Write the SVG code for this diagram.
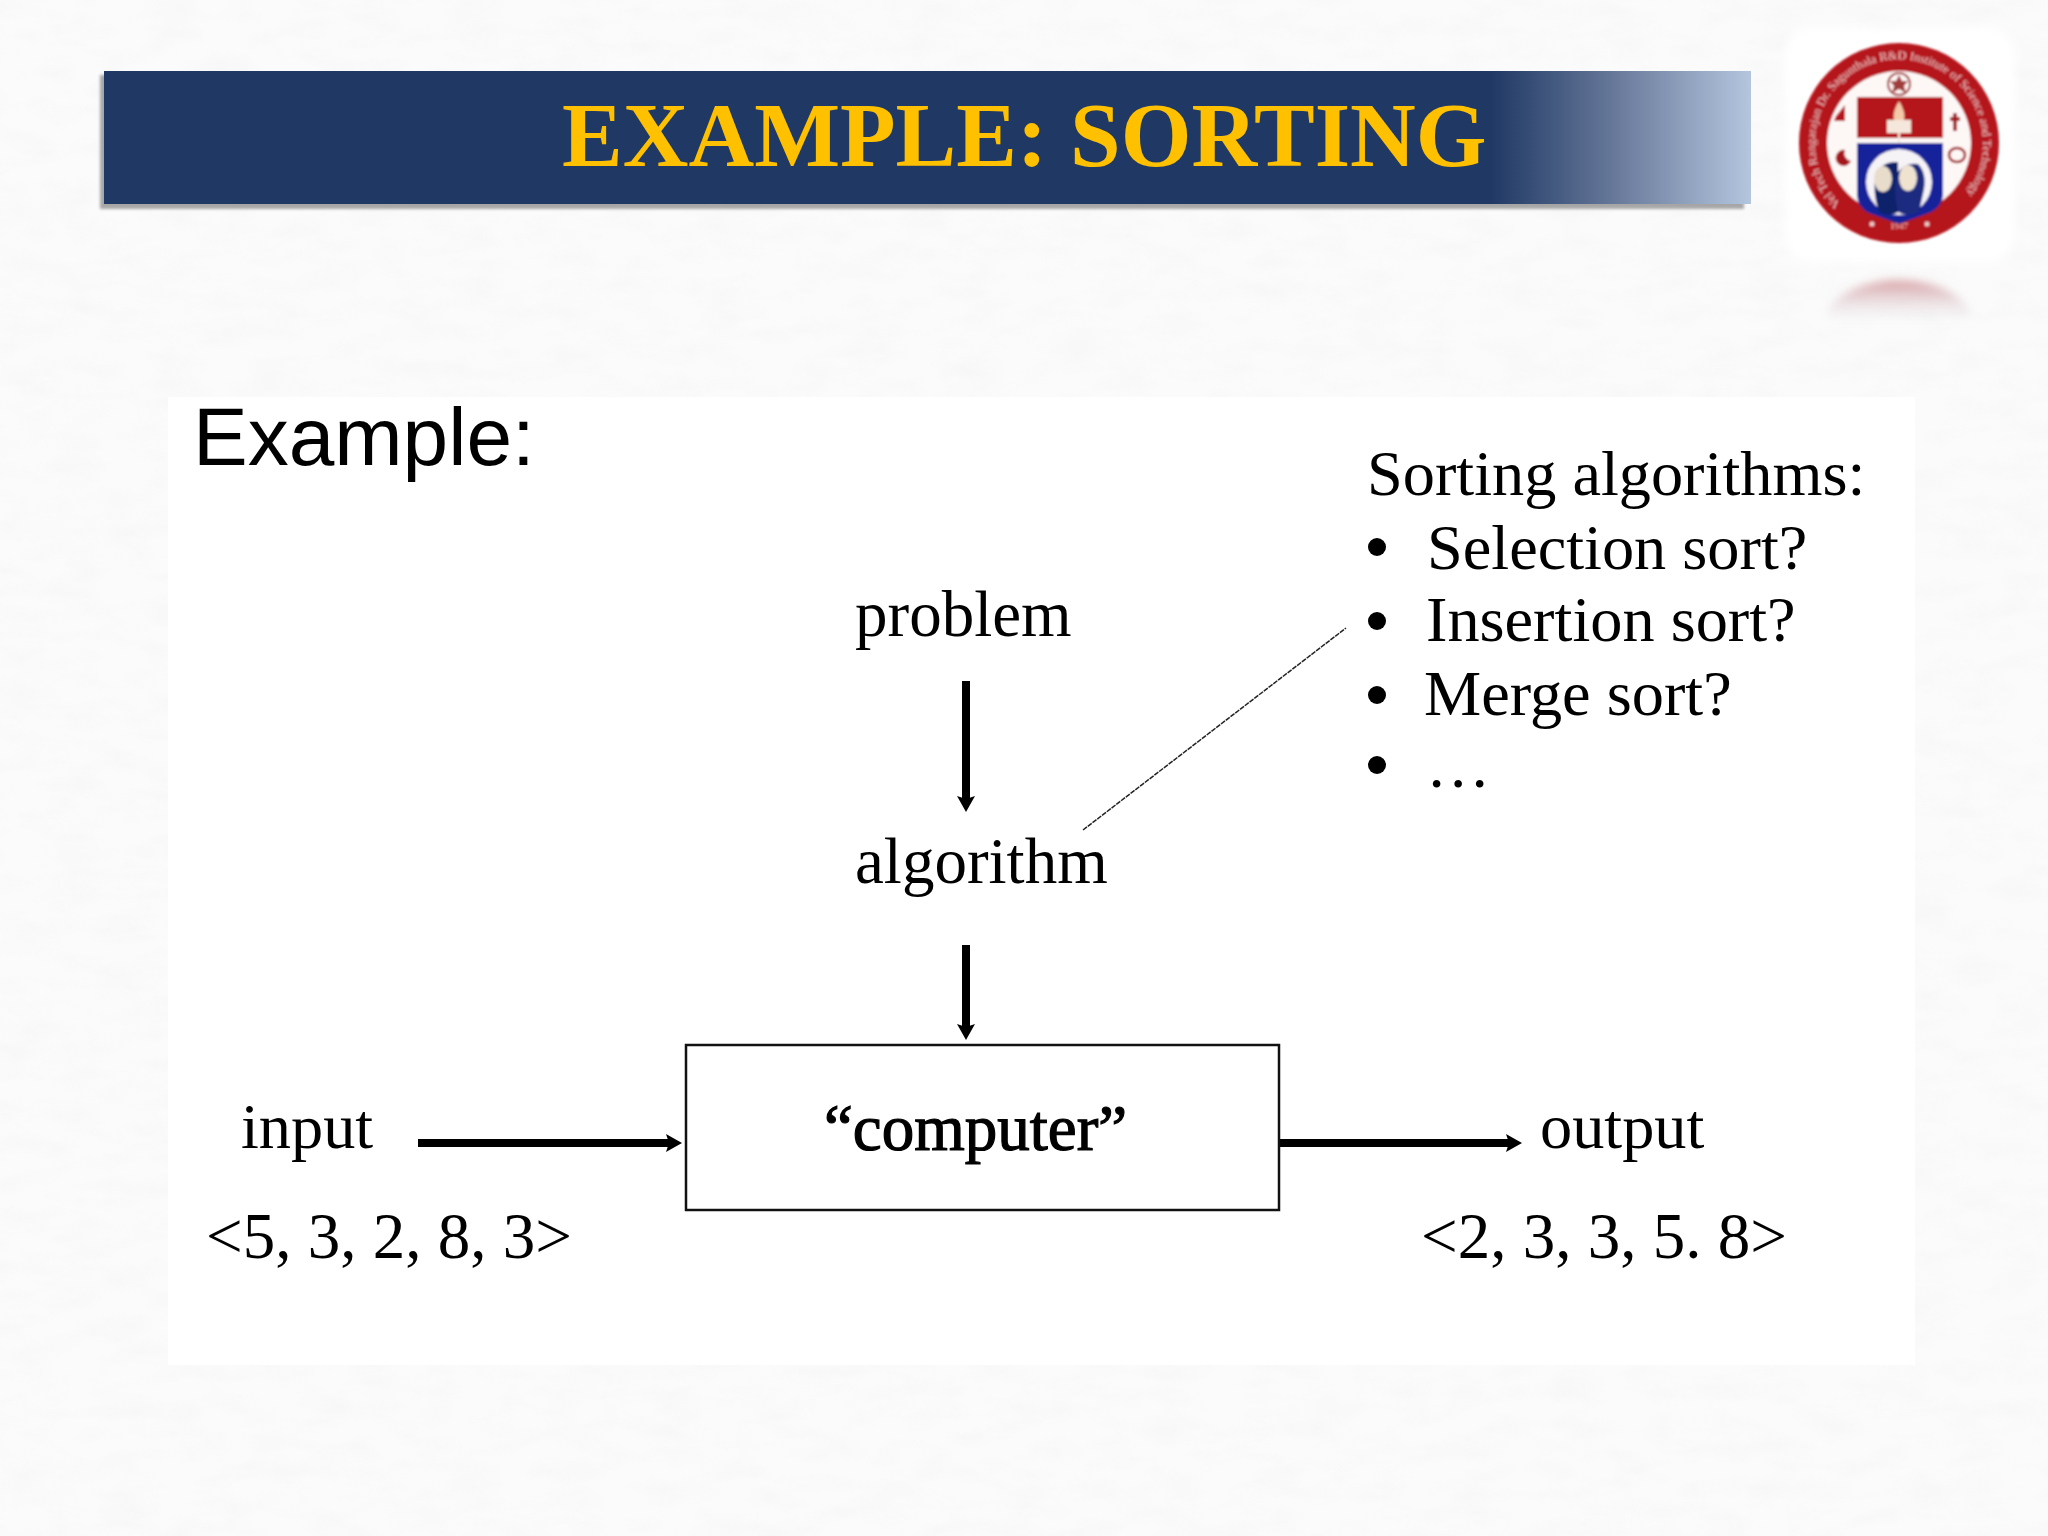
<svg xmlns="http://www.w3.org/2000/svg" width="2048" height="1536" viewBox="0 0 2048 1536">
<style>
.s{font-family:"Liberation Serif","Times New Roman",serif;fill:#000;font-size:65px}
.m{font-family:"Liberation Serif","Times New Roman",serif;fill:#000;font-size:64.3px}
.t{font-family:"Liberation Serif","Times New Roman",serif;font-weight:700;fill:#ffc000;font-size:91px}
.h{font-family:"Liberation Sans",Arial,sans-serif;fill:#000;font-size:82px}
.ring{font-family:"Liberation Serif",serif;font-size:12.2px;fill:#eec9c9}
.arrow{fill:none;stroke:#000;stroke-width:8}
</style>
<defs>
<linearGradient id="bar" x1="0" x2="1" y1="0" y2="0">
<stop offset="0" stop-color="#1f3864"/><stop offset="0.8415" stop-color="#1f3864"/><stop offset="0.92" stop-color="#6a7b9c"/><stop offset="1" stop-color="#b4c6de"/>
</linearGradient>
<linearGradient id="refl" gradientUnits="userSpaceOnUse" x1="0" x2="0" y1="280" y2="322">
<stop offset="0" stop-color="#c4676b" stop-opacity=".6"/><stop offset="1" stop-color="#c8cbd8" stop-opacity="0"/>
</linearGradient>
<filter id="mottle" x="0" y="0" width="100%" height="100%">
<feTurbulence type="fractalNoise" baseFrequency="0.02 0.05" numOctaves="3" seed="4"/>
<feColorMatrix values="0 0 0 0 0.5  0 0 0 0 0.5  0 0 0 0 0.5  0.5 0 0 0 -0.2"/>
</filter>
<filter id="soft" x="-10%" y="-10%" width="120%" height="120%"><feGaussianBlur stdDeviation="0.9"/></filter>
<filter id="softer" x="-20%" y="-20%" width="140%" height="140%"><feGaussianBlur stdDeviation="4"/></filter>
<filter id="shadow" x="-2%" y="-10%" width="104%" height="125%"><feGaussianBlur stdDeviation="1.5"/></filter>
<marker id="ah" viewBox="0 0 16 18" refX="6" refY="9" markerUnits="userSpaceOnUse" markerWidth="16" markerHeight="18" orient="auto"><path d="M0 0L16 9L0 18L3 9Z" fill="#000"/></marker>
<path id="ringTop" d="M1842 205A84 84 0 1 1 1956 205"/>
</defs>
<rect width="2048" height="1536" fill="#fbfbfb"/>
<rect width="2048" height="1536" filter="url(#mottle)" opacity=".22"/>
<rect x="168" y="397" width="1747" height="968" fill="#fff"/>

<g id="banner">
<rect x="100" y="75" width="1644" height="134" fill="#8a8a8a" opacity=".75" filter="url(#shadow)"/>
<rect x="104" y="71" width="1647" height="133" fill="url(#bar)"/>
<text class="t" x="562" y="166">EXAMPLE: SORTING</text>
</g>

<g id="logo">
<rect x="1785" y="28" width="230" height="234" rx="26" fill="#fff" filter="url(#softer)"/>
<ellipse cx="1899" cy="325" rx="75" ry="45" fill="url(#refl)" filter="url(#softer)"/>
<g filter="url(#soft)">
<circle cx="1899" cy="143" r="100" fill="#b5161e"/>
<circle cx="1899" cy="143" r="72" fill="#fdf8f6"/>
<text class="ring"><textPath href="#ringTop" startOffset="2">Vel Tech Rangarajan Dr. Sagunthala R&amp;D Institute of Science and Technology</textPath></text>
<circle cx="1872" cy="224" r="2.5" fill="#eec9c9"/><circle cx="1927" cy="224" r="2.5" fill="#eec9c9"/>
<circle cx="1899" cy="84" r="11" fill="none" stroke="#a23c3c" stroke-width="2"/>
<path d="M1899 75l3 6 6 0-4 5 2 7-7-4-7 4 2-7-4-5 6 0z" fill="#a23c3c"/>
<rect x="1857" y="97" width="86" height="41" fill="#b5121b"/>
<path d="M1899 101q7 11 5 19h-10q-2-8 5-19z" fill="#f3c9a8"/>
<path d="M1887 120h24v13h-24z" fill="#f5e7dc"/><path d="M1899 120v26" stroke="#f5e7dc" stroke-width="2"/>
<path d="M1857 143h86v50q0 14-14 20l-30 11-30-11q-12-6-12-20z" fill="#13229a"/>
<circle cx="1899" cy="182" r="33" fill="#f6f3f7"/>
<path d="M1879 212q-7-20-3-37q6-14 22-13v50q-8 6-19 0z" fill="#10206b"/>
<path d="M1898 212q-6-25 0-40q8-10 20-8q10 10 5 30l-4 18q-10 6-21 0z" fill="#1b2a80"/>
<ellipse cx="1883" cy="179" rx="9" ry="13" fill="#e8dccb"/><ellipse cx="1908" cy="178" rx="9" ry="13" fill="#efe3d0"/>
<path d="M1836 116l9-11v16h-11z" fill="#b5161e"/>
<path d="M1955 113v18M1950 119h10" stroke="#a5141c" stroke-width="4"/>
<path d="M1845 150a8 8 0 1 0 6 11a8 8 0 0 1-6-11z" fill="#a5141c"/>
<ellipse cx="1957" cy="155" rx="8" ry="7" fill="none" stroke="#a5141c" stroke-width="2.5"/>
<text x="1899" y="229" text-anchor="middle" font-family="Liberation Serif, serif" font-size="9" fill="#eec9c9">1947</text>
</g>
</g>

<g id="connectors">
<line class="arrow" x1="966" y1="681" x2="966" y2="802" marker-end="url(#ah)"/>
<line class="arrow" x1="966" y1="945" x2="966" y2="1030" marker-end="url(#ah)"/>
<line class="arrow" x1="418" y1="1143" x2="672" y2="1143" marker-end="url(#ah)"/>
<line class="arrow" x1="1276" y1="1143" x2="1512" y2="1143" marker-end="url(#ah)"/>
<line x1="1083" y1="830" x2="1346" y2="628" stroke="#222" stroke-width="1.5" stroke-dasharray="5 1"/>
</g>

<g id="example"><text class="h" x="193" y="465">Example:</text></g>
<g id="problem"><text class="s" x="855" y="636">problem</text></g>
<g id="algorithm"><text class="s" x="855" y="883">algorithm</text></g>
<g id="computer">
<rect x="686" y="1045" width="593" height="165" fill="#fff" stroke="#111" stroke-width="2.5"/>
<text class="s" x="824" y="1150" stroke="#000" stroke-width="1.2">“computer”</text>
</g>
<g id="input"><text class="m" x="241" y="1148">input</text></g>
<g id="output"><text class="m" x="1540" y="1148">output</text></g>
<g id="input-value"><text class="s" x="206" y="1258">&lt;5, 3, 2, 8, 3&gt;</text></g>
<g id="output-value"><text class="s" x="1421" y="1258">&lt;2, 3, 3, 5. 8&gt;</text></g>
<g id="sorting-list">
<text class="m" x="1367" y="495">Sorting algorithms:</text>
<circle cx="1377" cy="547" r="9"/><text class="m" x="1427" y="569">Selection sort?</text>
<circle cx="1377" cy="621" r="9"/><text class="m" x="1426" y="641">Insertion sort?</text>
<circle cx="1377" cy="695" r="9"/><text class="m" x="1424" y="715">Merge sort?</text>
<circle cx="1377" cy="765" r="9"/><text class="m" x="1426" y="787">…</text>
</g>
</svg>
